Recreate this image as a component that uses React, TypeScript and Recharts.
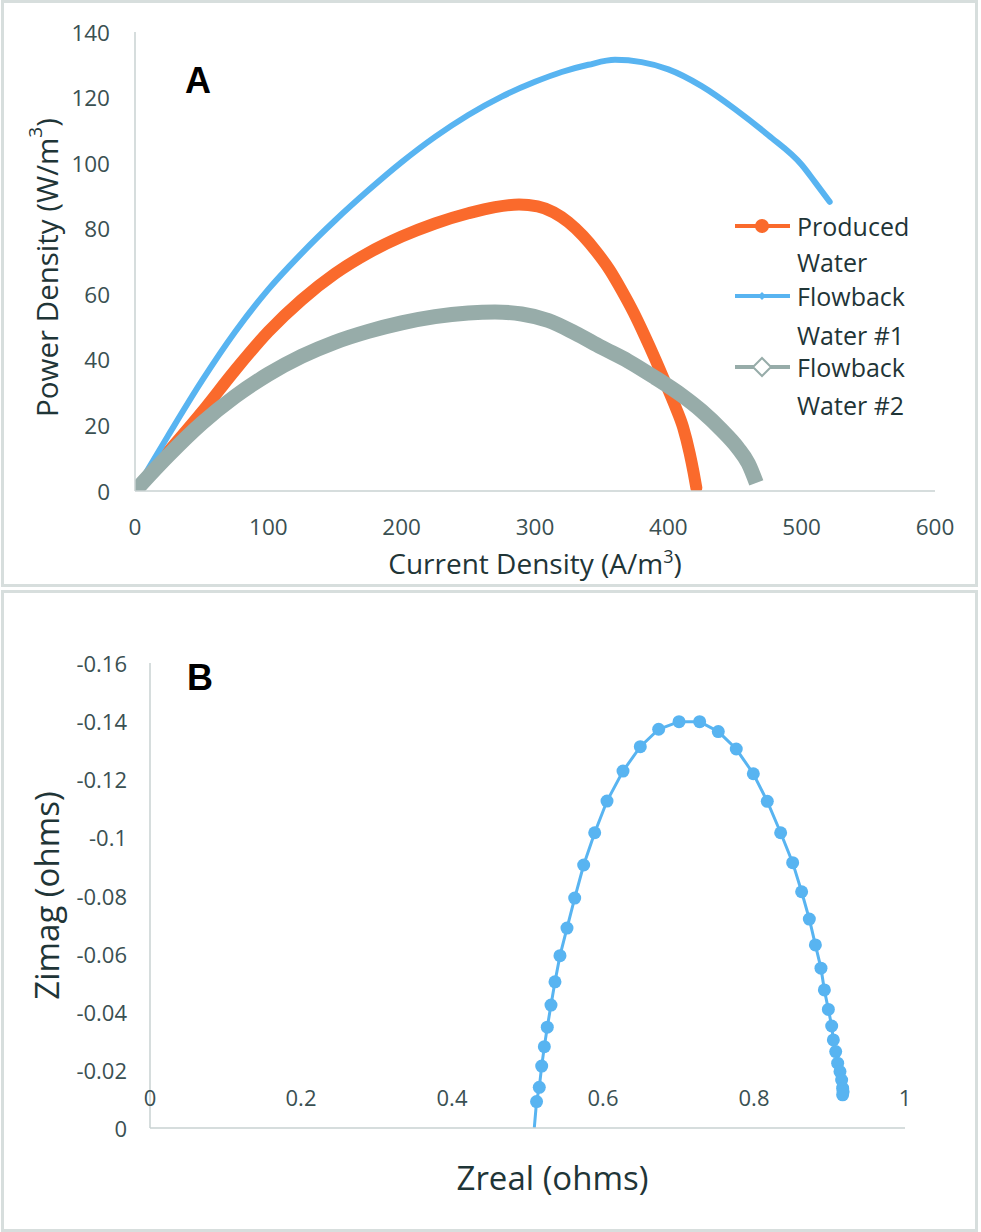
import React from 'react';
import { LineChart, Line, XAxis, YAxis, Label } from 'recharts';

// ---------- Panel A data ----------
const currentTicks = [0, 100, 200, 300, 400, 500, 600];
const powerTicks = [0, 20, 40, 60, 80, 100, 120, 140];

const producedCurrent = [0, 25, 50, 75, 100, 125, 150, 175, 200, 225, 250, 270, 288, 302, 314, 325, 336, 346, 356, 365, 374, 382, 390, 398, 405, 411, 416, 419, 421];
const producedPower = [0, 12, 24, 36.8, 48.6, 58.3, 66.3, 72.6, 77.6, 81.6, 84.7, 86.6, 87.4, 86.8, 85, 82, 77.8, 73, 67.4, 61.2, 54.4, 47.6, 40.4, 32.8, 26, 19.5, 11.5, 5.5, 1];

const flowback1Current = [0, 25, 50, 75, 100, 125, 150, 175, 200, 225, 250, 275, 300, 320, 340, 360, 380, 400, 425, 450, 475, 500, 510, 521];
const flowback1Power = [0, 17, 33.5, 48.5, 61.5, 72.5, 82.5, 91.7, 100.3, 108, 114.7, 120.3, 124.8, 127.8, 130, 131.5, 130.8, 128.6, 123.5, 116.5, 108.5, 99.5, 94.2, 88.2];

const flowback2Current = [0, 25, 50, 75, 100, 125, 150, 175, 200, 225, 250, 270, 290, 310, 330, 350, 370, 390, 410, 425, 440, 452, 460, 466];
const flowback2Power = [0, 10.8, 20.6, 28.8, 35.6, 41.1, 45.4, 48.7, 51.3, 53.2, 54.3, 54.6, 54, 52, 48.2, 43.8, 39.6, 34.6, 29.2, 24.4, 18.6, 13.2, 8.4, 2.5];

const seriesNames = ['Produced Water', 'Flowback Water #1', 'Flowback Water #2'];

// ---------- Panel B data ----------
const zrealTicks = [0, 0.2, 0.4, 0.6, 0.8, 1];
const zimagTicks = [-0.16, -0.14, -0.12, -0.1, -0.08, -0.06, -0.04, -0.02, 0];
const zreal = [0.509, 0.512, 0.5156, 0.5188, 0.5223, 0.5262, 0.5311, 0.5364, 0.543, 0.5523, 0.5625, 0.5744, 0.589, 0.6053, 0.6265, 0.6494, 0.6737, 0.7007, 0.728, 0.7527, 0.7765, 0.7991, 0.8176, 0.8353, 0.8512, 0.8631, 0.8733, 0.8813, 0.8887, 0.8932, 0.8985, 0.9029, 0.9051, 0.9082, 0.9108, 0.9139, 0.9161, 0.9174, 0.918, 0.9174];
const zimag = [0, -0.0091, -0.014, -0.0213, -0.028, -0.0347, -0.0423, -0.0503, -0.0593, -0.0688, -0.0791, -0.0905, -0.1016, -0.1125, -0.1228, -0.1312, -0.1372, -0.1398, -0.1398, -0.1364, -0.1304, -0.1219, -0.1124, -0.1016, -0.0913, -0.0813, -0.0719, -0.063, -0.055, -0.0475, -0.0408, -0.0351, -0.0303, -0.0263, -0.0223, -0.0194, -0.0165, -0.0137, -0.0125, -0.0114];

const toPoints = (xs: number[], ys: number[]) => xs.map((x, i) => ({ x, y: ys[i] }));
const produced = toPoints(producedCurrent, producedPower);
const flowback1 = toPoints(flowback1Current, flowback1Power);
const flowback2 = toPoints(flowback2Current, flowback2Power);
const impedance = zreal.map((zr, i) => ({ zr, zi: zimag[i] }));

// ---------- styles ----------
const FONT = '"Open Sans", "Noto Sans", sans-serif';
const TICK = '#3a5052';
const TITLE = '#1f3537';
const AXIS = '#c8d2d2';
const BORDER = '#d7dedd';
const ORANGE = '#fa6a2c';
const BLUE = '#58b4f1';
const GRAY = '#97aca9';

const TickText = (props: any) => {
  const { x, y, payload, dx = 0, dy = 0, anchor = 'middle', size = 22 } = props;
  return (
    <text x={x + dx} y={y + dy} textAnchor={anchor} dominantBaseline="central" fontSize={size} fill={TICK} fontFamily={FONT}>
      {String(payload.value)}
    </text>
  );
};

const XTitleA = (props: any) => {
  const vb = props.viewBox || { x: 0, y: 0, width: 0, height: 0 };
  const cx = vb.x + vb.width / 2;
  const by = vb.y + 83;
  return (
    <text x={cx} y={by} textAnchor="middle" fontSize={28} fill={TITLE} fontFamily={FONT}>
      <tspan>Current Density (A/m</tspan>
      <tspan fontSize={18} dy={-11}>3</tspan>
      <tspan dy={11}>)</tspan>
    </text>
  );
};

const YTitleA = (props: any) => {
  const vb = props.viewBox || { x: 0, y: 0, width: 0, height: 0 };
  const cx = vb.x + 46;
  const cy = vb.y + vb.height / 2 + 6;
  return (
    <text x={cx} y={cy} transform={`rotate(-90, ${cx}, ${cy})`} textAnchor="middle" dominantBaseline="central" fontSize={29.5} fill={TITLE} fontFamily={FONT}>
      <tspan>Power Density (W/m</tspan>
      <tspan fontSize={19} dy={-11}>3</tspan>
      <tspan dy={11}>)</tspan>
    </text>
  );
};

const XTitleB = (props: any) => {
  const vb = props.viewBox || { x: 0, y: 0, width: 0, height: 0 };
  const cx = vb.x + vb.width / 2 + 25;
  const cy = vb.y + 49;
  return (
    <text x={cx} y={cy} textAnchor="middle" dominantBaseline="central" fontSize={33} fill={TITLE} fontFamily={FONT}>
      Zreal (ohms)
    </text>
  );
};

const YTitleB = (props: any) => {
  const vb = props.viewBox || { x: 0, y: 0, width: 0, height: 0 };
  const cx = vb.x + 46;
  const cy = vb.y + vb.height / 2;
  return (
    <text x={cx} y={cy} transform={`rotate(-90, ${cx}, ${cy})`} textAnchor="middle" dominantBaseline="central" fontSize={33} fill={TITLE} fontFamily={FONT}>
      Zimag (ohms)
    </text>
  );
};

const legendRows = [
  { y: 21, color: ORANGE, marker: 'circle', lines: ['Produced', 'Water'], y2: 57 },
  { y: 91, color: BLUE, marker: 'smallDiamond', lines: ['Flowback', 'Water #1'], y2: 130 },
  { y: 162, color: GRAY, marker: 'hollowDiamond', lines: ['Flowback', 'Water #2'], y2: 200 },
];

const LegendA = () => (
  <svg width={240} height={220} style={{ position: 'absolute', left: 730, top: 205, overflow: 'visible' }}>
    {legendRows.map((r, i) => (
      <g key={i}>
        <line x1={5} x2={60} y1={r.y} y2={r.y} stroke={r.color} strokeWidth={4} />
        {r.marker === 'circle' && <circle cx={32} cy={r.y} r={7} fill={r.color} />}
        {r.marker === 'smallDiamond' && (
          <path d={`M32 ${r.y - 4} L36 ${r.y} L32 ${r.y + 4} L28 ${r.y} Z`} fill={r.color} />
        )}
        {r.marker === 'hollowDiamond' && (
          <path d={`M32 ${r.y - 9} L41 ${r.y} L32 ${r.y + 9} L23 ${r.y} Z`} fill="#fff" stroke={r.color} strokeWidth={2} />
        )}
        <text x={67} y={r.y} dominantBaseline="central" fontSize={25} fill={TITLE} fontFamily={FONT}>{r.lines[0]}</text>
        <text x={67} y={r.y2} dominantBaseline="central" fontSize={25} fill={TITLE} fontFamily={FONT}>{r.lines[1]}</text>
      </g>
    ))}
  </svg>
);

const renderImpDot = (props: any) => {
  const { cx, cy, index } = props;
  if (index === 0) return <g key={`d${index}`} />;
  return <circle key={`d${index}`} cx={cx} cy={cy} r={6.5} fill={BLUE} />;
};

export default function App() {
  return (
    <div style={{ position: 'absolute', left: 0, top: 0, width: 981, height: 1232, background: '#fff', fontFamily: FONT }}>
      {/* Panel A */}
      <div style={{ position: 'absolute', left: 1, top: 0, width: 977, height: 587, boxSizing: 'border-box', border: `3px solid ${BORDER}` }} />
      <div style={{ position: 'absolute', left: 0, top: 0 }}>
        <LineChart width={977} height={587} margin={{ top: 32, right: 42, left: 0, bottom: 0 }}>
          <XAxis
            type="number"
            dataKey="x"
            domain={[0, 600]}
            ticks={currentTicks}
            allowDataOverflow
            height={96}
            tickSize={0}
            tickMargin={0}
            axisLine={{ stroke: AXIS, strokeWidth: 1.5 }}
            tickLine={false}
            tick={(p: any) => <TickText {...p} dy={35} size={22.5} />}
          >
            <Label content={XTitleA} />
          </XAxis>
          <YAxis
            type="number"
            dataKey="y"
            domain={[0, 140]}
            ticks={powerTicks}
            allowDataOverflow
            width={135}
            tickSize={0}
            tickMargin={0}
            axisLine={{ stroke: AXIS, strokeWidth: 1.5 }}
            tickLine={false}
            tick={(p: any) => <TickText {...p} dx={-25} anchor="end" size={22.5} />}
          >
            <Label content={YTitleA} />
          </YAxis>
          <Line data={produced} dataKey="y" name={seriesNames[0]} type="monotone" stroke={ORANGE} strokeWidth={12} strokeLinecap="round" strokeLinejoin="round" dot={false} isAnimationActive={false} />
          <Line data={flowback1} dataKey="y" name={seriesNames[1]} type="monotone" stroke={BLUE} strokeWidth={6} strokeLinecap="round" strokeLinejoin="round" dot={false} isAnimationActive={false} />
          <Line data={flowback2} dataKey="y" name={seriesNames[2]} type="monotone" stroke={GRAY} strokeWidth={15} strokeLinejoin="round" dot={false} isAnimationActive={false} />
        </LineChart>
      </div>
      <LegendA />
      <svg style={{ position: 'absolute', left: 0, top: 0 }} width={300} height={120}>
        <text x={185} y={93} fontSize={36} fontWeight="bold" fontFamily='"Liberation Sans", Arial, sans-serif' fill="#000">A</text>
      </svg>

      {/* Panel B */}
      <div style={{ position: 'absolute', left: 1, top: 590, width: 977, height: 642, boxSizing: 'border-box', border: `3px solid ${BORDER}` }} />
      <div style={{ position: 'absolute', left: 0, top: 590 }}>
        <LineChart width={977} height={640} data={impedance} margin={{ top: 73, right: 72, left: 0, bottom: 0 }}>
          <XAxis
            type="number"
            dataKey="zr"
            domain={[0, 1]}
            ticks={zrealTicks}
            allowDataOverflow
            height={102}
            tickSize={0}
            tickMargin={0}
            axisLine={{ stroke: AXIS, strokeWidth: 1.5 }}
            tickLine={false}
            tick={(p: any) => <TickText {...p} dy={-31} />}
          >
            <Label content={XTitleB} />
          </XAxis>
          <YAxis
            type="number"
            domain={[-0.16, 0]}
            ticks={zimagTicks}
            reversed
            allowDataOverflow
            width={150}
            tickSize={0}
            tickMargin={0}
            axisLine={{ stroke: AXIS, strokeWidth: 1.5 }}
            tickLine={false}
            tick={(p: any) => <TickText {...p} dx={-23} anchor="end" />}
          >
            <Label content={YTitleB} />
          </YAxis>
          <Line dataKey="zi" type="linear" stroke={BLUE} strokeWidth={3} dot={renderImpDot} activeDot={false} isAnimationActive={false} />
        </LineChart>
      </div>
      <svg style={{ position: 'absolute', left: 0, top: 590 }} width={300} height={120}>
        <text x={187} y={100} fontSize={36} fontWeight="bold" fontFamily='"Liberation Sans", Arial, sans-serif' fill="#000">B</text>
      </svg>
    </div>
  );
}
